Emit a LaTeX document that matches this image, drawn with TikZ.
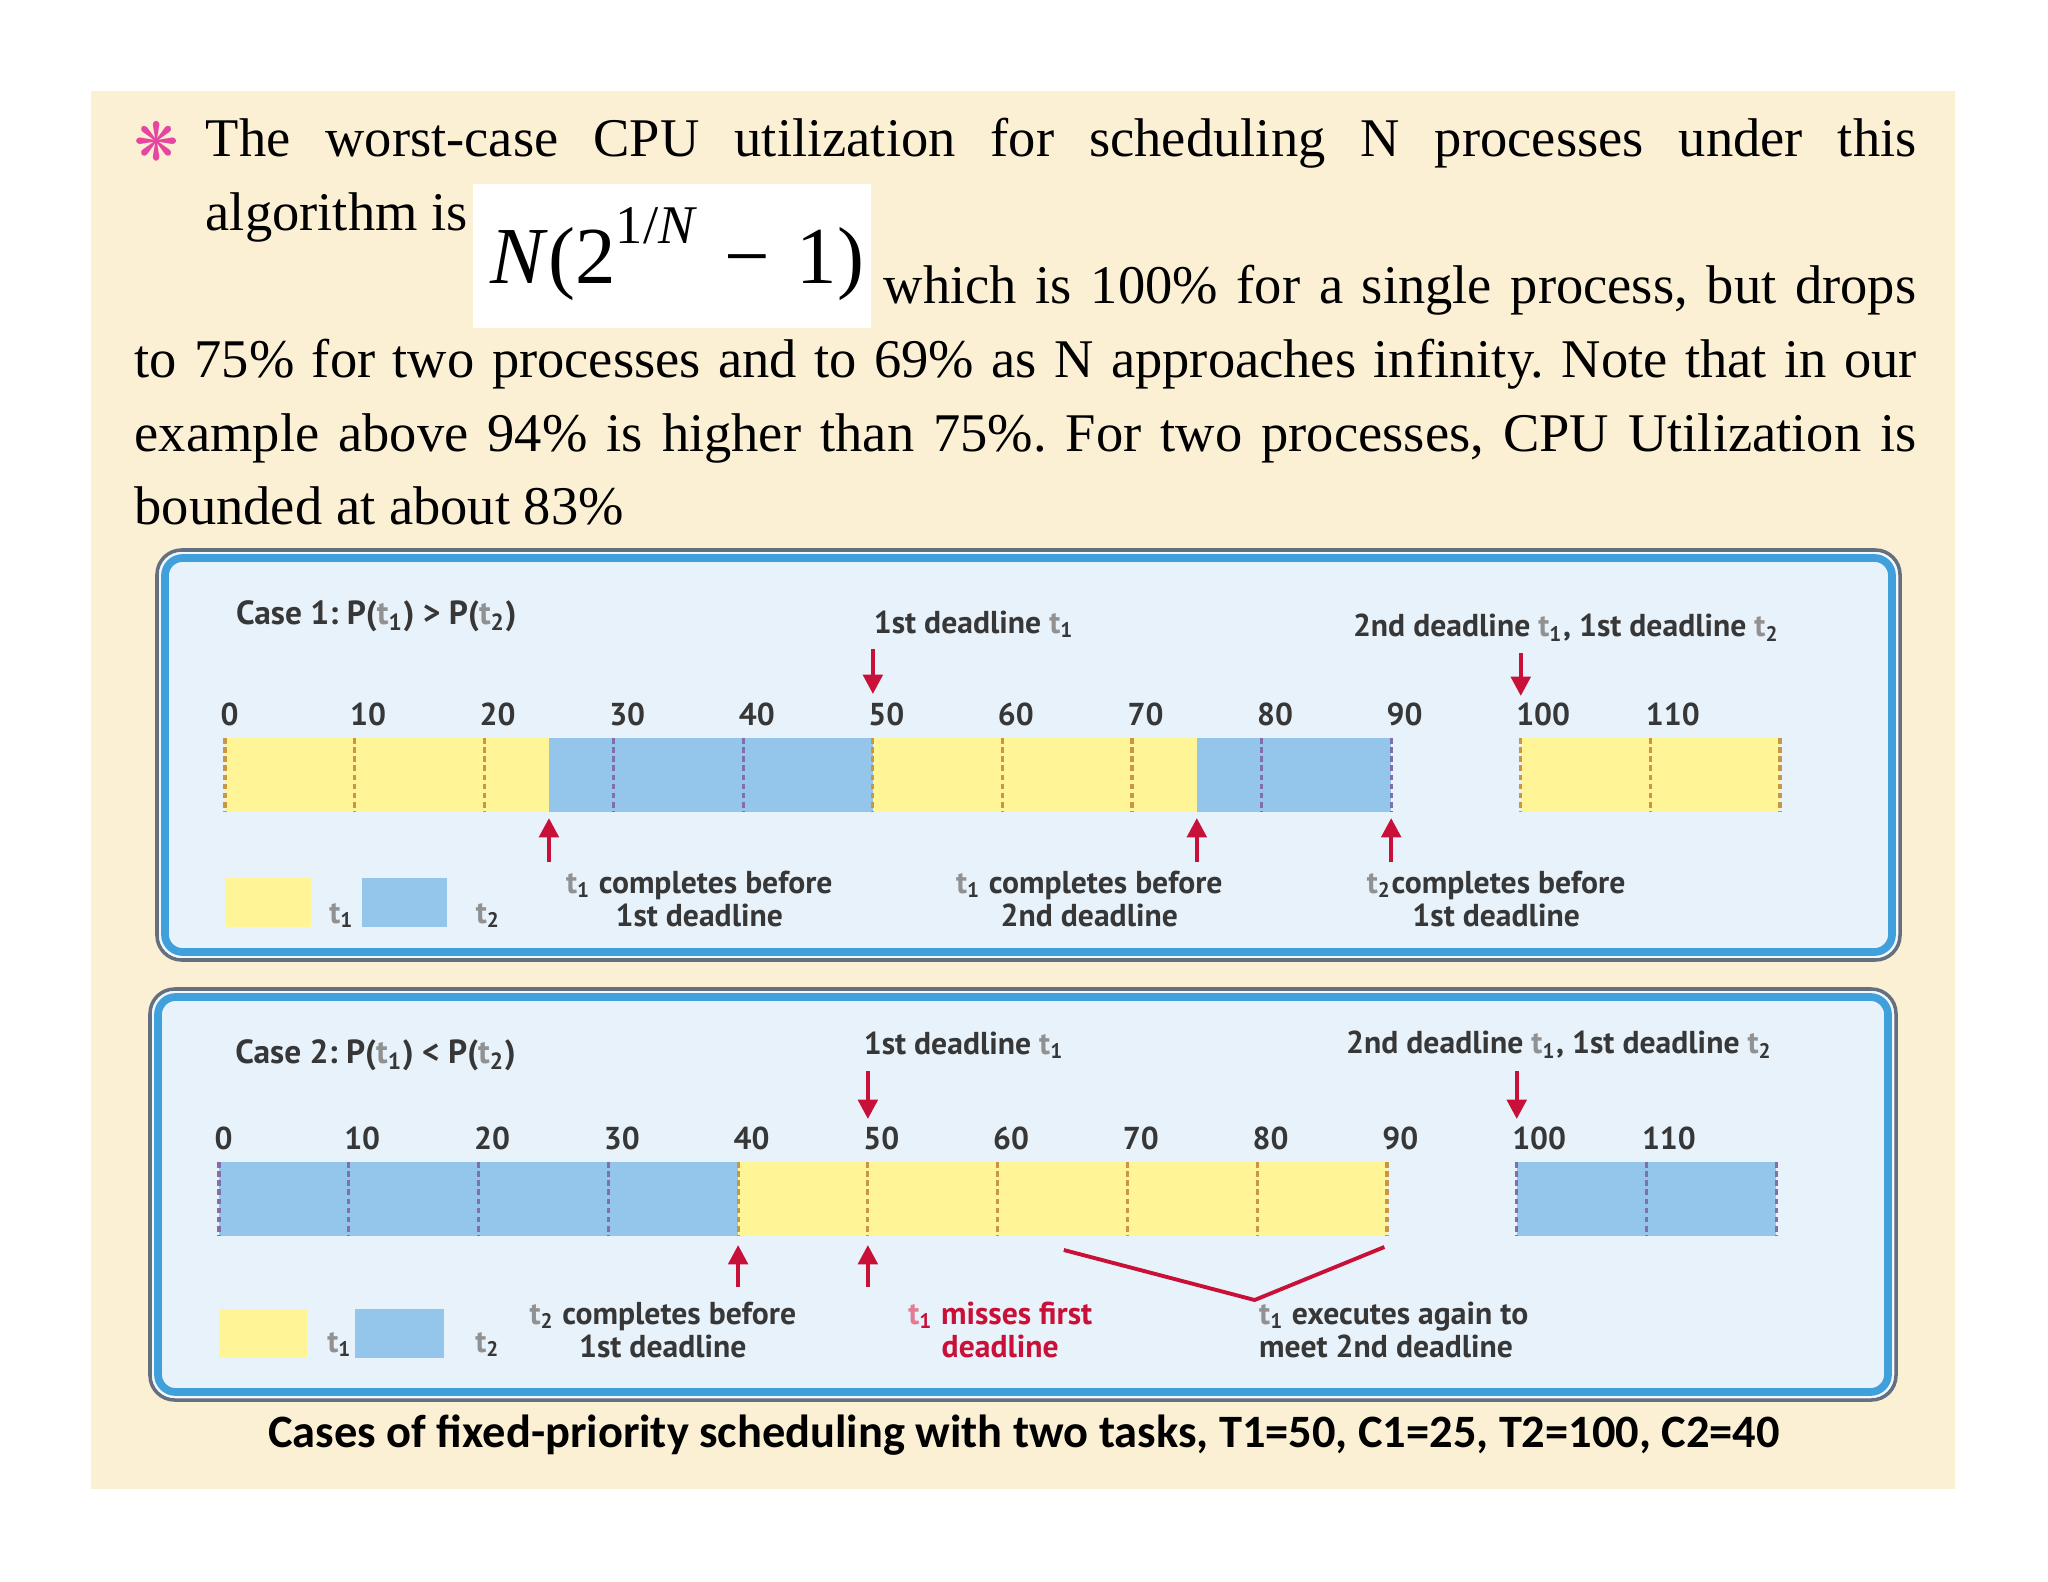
\documentclass[tikz,border=0pt]{standalone}
\usepackage{fontspec}
\setmainfont{Liberation Serif}
\newfontfamily\panelfont{PT Sans}
\newfontfamily\capfont{Carlito}
\newfontfamily\dingfont{DejaVu Sans}
\usepackage{tikz}
\usetikzlibrary{arrows.meta}
\usetikzlibrary{calc}
\frenchspacing

\definecolor{paper}{RGB}{251,240,212}
\definecolor{panelbg}{RGB}{232,242,250}
\definecolor{panelrim}{RGB}{64,160,220}
\definecolor{panelout}{RGB}{100,112,128}
\definecolor{taskone}{RGB}{255,245,150}
\definecolor{tasktwo}{RGB}{148,198,236}
\definecolor{tickone}{RGB}{200,150,70}
\definecolor{ticktwo}{RGB}{130,110,170}
\definecolor{deadred}{RGB}{200,16,56}
\definecolor{panelink}{RGB}{55,55,55}
\definecolor{bulletpink}{RGB}{230,70,160}

\newcommand{\tk}[1]{{\color{.!55}t}\textsubscript{#1}}

\tikzset{
	onebar/.style={fill=taskone},
	twobar/.style={fill=tasktwo},
	onetick/.style={tickone, line width=0.9pt, dash pattern=on 1.6pt off 1pt},
	twotick/.style={ticktwo, line width=0.9pt, dash pattern=on 1.6pt off 1pt},
	redarrow/.style={deadred, line width=1.2pt, -{Triangle[length=5.5pt,width=5.5pt]}},
	lbl/.style={font=\panelfont\bfseries\fontsize{9}{9.6}\selectfont, text=panelink, inner sep=0pt},
	num/.style={lbl, anchor=west},
	body/.style={font=\fontsize{15.5}{20}\selectfont, anchor=base west, inner sep=0pt},
}

\begin{document}
\begin{tikzpicture}[x=0.01cm, y=-0.01cm]
		\useasboundingbox (0,0) rectangle (2048,1582);
		\fill[white] (0,0) rectangle (2048,1582);
		\fill[paper] (91,91) rectangle (1955,1489);

		% text above the figure
		\node[text=bulletpink, font=\dingfont\fontsize{15}{15}\selectfont, inner sep=0pt] (bul) at (157,141) {❋};
		\node[body] (l1) at (205,157) {\makebox[17.10cm][s]{The worst-case CPU utilization for scheduling N processes under this}};
		\node[body] (l2) at (205,231) {algorithm is};
		\fill[white] (473,184) rectangle (871,328);
		\node[body, font=\fontsize{23}{23}\selectfont] (formula) at (490,284) {\textit{N}(2\raisebox{0.5em}{\fontsize{15.5}{15.5}\selectfont 1/\textit{N}}\,\,−\,\,1)};
		\node[body] (l3) at (883,304) {\makebox[10.32cm][s]{which is 100\% for a single process, but drops}};
		\node[body] (l4) at (134,377) {\makebox[17.81cm][s]{to 75\% for two processes and to 69\% as N approaches infinity. Note that in our}};
		\node[body] (l5) at (134,451) {\makebox[17.81cm][s]{example above 94\% is higher than 75\%. For two processes, CPU Utilization is}};
		\node[body] (l6) at (134,524) {bounded at about 83\%};

		% case 1
		\draw[panelout, line width=1pt, rounded corners=7pt, fill=white!50!panelbg] (157,550) rectangle (1900,960);
		\draw[panelrim, line width=2.2pt, rounded corners=5pt, fill=panelbg] (165,558) rectangle (1892,952);
		\begin{scope}[shift={(225,738)}, x=0.1295cm]
			\fill[onebar] (0,0) rectangle (25,74);
			\fill[twobar] (25,0) rectangle (50,74);
			\fill[onebar] (50,0) rectangle (75,74);
			\fill[twobar] (75,0) rectangle (90,74);
			\fill[onebar] (100,0) rectangle (120,74);
			\foreach \t in {0,10,20,50,60,70,100,110,120}
				\draw[onetick] (\t,0) -- (\t,74);
			\foreach \t in {30,40,80,90}
				\draw[twotick] (\t,0) -- (\t,74);
			\foreach \t in {0,10,...,110}
				\node[num] (a\t) at (\t-0.4,-24) {\t};

			\node[lbl, anchor=west, font=\panelfont\bfseries\fontsize{9.5}{10}\selectfont] (case1) at (0.8,-122) {Case 1: P(\tk{1}) > P(\tk{2})};
			\node[lbl] (a1st) at (57.8,-114) {1st deadline \tk{1}};
			\node[lbl, anchor=west] (a2nd) at (87,-110) {2nd deadline \tk{1}, 1st deadline \tk{2}};

			\coordinate (ad50) at (50,-89); \coordinate (ae50) at (50,-44);
			\coordinate (ad100) at (100,-85); \coordinate (ae100) at (100,-42);
			\draw[redarrow] (ad50) -- (ae50);
			\draw[redarrow] (ad100) -- (ae100);
			\foreach \t in {25,75,90}{
				\coordinate (au\t) at (\t,124); \coordinate (av\t) at (\t,80);
				\draw[redarrow] (au\t) -- (av\t);
			}

			\fill[onebar] (0,140) rectangle (6.6,189);
			\node[lbl, anchor=base west] (akey1) at (8.0,185) {\tk{1}};
			\fill[twobar] (10.6,140) rectangle (17.1,189);
			\node[lbl, anchor=base west] (akey2) at (19.3,185) {\tk{2}};

			\node[lbl, align=center] (adone1) at (36.6,161) {\tk{1} completes before\\1st deadline};
			\node[lbl, align=center] (adone2) at (66.7,161) {\tk{1} completes before\\2nd deadline};
			\node[lbl, align=center] (adone3) at (98.1,161) {\tk{2}completes before\\1st deadline};
		\end{scope}

		% case 2
		\draw[panelout, line width=1pt, rounded corners=7pt, fill=white!50!panelbg] (150,989) rectangle (1896,1400);
		\draw[panelrim, line width=2.2pt, rounded corners=5pt, fill=panelbg] (158,997) rectangle (1888,1392);
		\begin{scope}[shift={(219,1162)}, x=0.1297cm]
			\fill[twobar] (0,0) rectangle (40,74);
			\fill[onebar] (40,0) rectangle (90,74);
			\fill[twobar] (100,0) rectangle (120,74);
			\foreach \t in {0,10,20,30,100,110,120}
				\draw[twotick] (\t,0) -- (\t,74);
			\foreach \t in {40,50,60,70,80,90}
				\draw[onetick] (\t,0) -- (\t,74);
			\foreach \t in {0,10,...,110}
				\node[num] (b\t) at (\t-0.4,-24) {\t};

			\node[lbl, anchor=west, font=\panelfont\bfseries\fontsize{9.5}{10}\selectfont] (case2) at (1.2,-107) {Case 2: P(\tk{1}) < P(\tk{2})};
			\node[lbl] (b1st) at (57.4,-117) {1st deadline \tk{1}};
			\node[lbl, anchor=west] (b2nd) at (86.8,-117) {2nd deadline \tk{1}, 1st deadline \tk{2}};

			\coordinate (bd50) at (50,-91); \coordinate (be50) at (50,-43);
			\coordinate (bd100) at (100,-91); \coordinate (be100) at (100,-43);
			\draw[redarrow] (bd50) -- (be50);
			\draw[redarrow] (bd100) -- (be100);
			\foreach \t in {40,50}{
				\coordinate (bu\t) at (\t,125); \coordinate (bv\t) at (\t,83);
				\draw[redarrow] (bu\t) -- (bv\t);
			}
			\coordinate (v1) at (65.1,88);
			\coordinate (v2) at (79.8,138);
			\coordinate (v3) at (89.8,85);
			\draw[deadred, line width=1.1pt] (v1) -- (v2) -- (v3);

			\fill[onebar] (0,147) rectangle (6.8,196);
			\node[lbl, anchor=base west] (bkey1) at (8.3,190) {\tk{1}};
			\fill[twobar] (10.5,147) rectangle (17.3,196);
			\node[lbl, anchor=base west] (bkey2) at (19.7,190) {\tk{2}};

			\node[lbl, align=center] (bdone) at (34.2,168) {\tk{2} completes before\\1st deadline};
			\node[lbl, align=center, text=deadred] (bmiss) at (60.2,168) {\tk{1} misses first\\deadline};
			\node[lbl, align=left, anchor=west] (bagain) at (80.1,168) {\tk{1} executes again to\\meet 2nd deadline};
		\end{scope}

		\node[font=\capfont\bfseries\fontsize{13.2}{13.2}\selectfont, inner sep=0pt] (cap) at (1024,1435) {Cases of fixed-priority scheduling with two tasks, T1=50, C1=25, T2=100, C2=40};
	\end{tikzpicture}
\end{document}
